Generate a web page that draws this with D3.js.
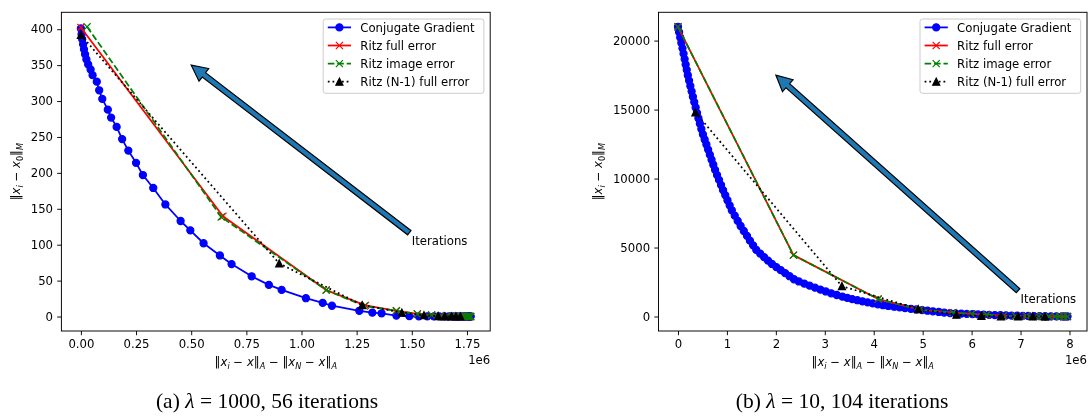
<!DOCTYPE html>
<html><head><meta charset="utf-8">
<script src="https://cdn.jsdelivr.net/npm/d3@7"></script>
<style>body{margin:0;background:#fff}svg{display:block;will-change:transform}text{font-family:"DejaVu Sans"}</style>
</head><body><svg id="c" width="1088" height="420"></svg>
<script>
// ---------- Panel (a): lambda = 1000, 56 iterations (x values in units of 1e6) ----------
const cgA_x = [0,0.003,0.006,0.010,0.014,0.019,0.025,0.033,0.044,0.053,0.072,0.083,0.097,0.122,0.137,0.162,0.187,0.215,0.250,0.281,0.328,0.383,0.452,0.496,0.556,0.630,0.683,0.774,0.852,0.910,1.020,1.096,1.138,1.262,1.321,1.363,1.430,1.489,1.532,1.570,1.600,1.625,1.648,1.668,1.686,1.701,1.714,1.725,1.734,1.742,1.748,1.753,1.757,1.761,1.764,1.767];
const cgA_y = [401,393,386,379,372,365,358,351,344,336,327,315,303,288,277,264,247,231,214,197,179,156,133,120,102,85,73,56,44,37,25.5,19,15,8,5.4,4.5,1.3,0.5,0.2,0.15,0.1,0.08,0.06,0.05,0.04,0.03,0.02,0.02,0.01,0.01,0.01,0,0,0,0,0];
const ritzFullA_x = [0,0.644,1.112,1.290,1.430,1.525,1.590,1.630,1.660,1.685,1.705,1.720,1.733,1.744,1.752,1.758,1.763,1.767];
const ritzFullA_y = [402.5,139.6,36.8,15.5,8,3.5,2,1.2,0.8,0.5,0.35,0.25,0.15,0.1,0.05,0.03,0.01,0];
const ritzImageA_x = [0.028,0.636,1.112,1.285,1.430,1.525,1.590,1.630,1.660,1.685,1.705,1.720,1.733,1.744,1.752,1.758,1.763,1.767];
const ritzImageA_y = [403.4,138.6,36.8,14.6,8,3.5,2,1.2,0.8,0.5,0.35,0.25,0.15,0.1,0.05,0.03,0.01,0];
const ritzN1A_x = [0,0.899,1.275,1.455,1.555,1.620,1.650,1.680,1.700,1.720];
const ritzN1A_y = [392,73.9,16,5.5,1.8,0.6,0.3,0.2,0.1,0.05];
const xTicksA = [0,0.25,0.5,0.75,1.0,1.25,1.5,1.75];
const xTickLabelsA = ["0.00","0.25","0.50","0.75","1.00","1.25","1.50","1.75"];
const yTicksA = [0,50,100,150,200,250,300,350,400];
const arrowA_xy = [0.5,350];
const arrowA_text = [1.5,100];

// ---------- Panel (b): lambda = 10, 104 iterations ----------
const cgB_x = [0,0.023,0.046,0.069,0.092,0.114,0.136,0.157,0.179,0.201,0.227,0.253,0.279,0.305,0.333,0.361,0.389,0.418,0.448,0.478,0.51,0.545,0.581,0.616,0.651,0.686,0.722,0.758,0.798,0.839,0.880,0.921,0.966,1.011,1.056,1.10,
  1.16,1.22,1.28,1.345,1.41,1.47,1.535,1.60,
  1.68,1.76,1.84,1.92,2.01,2.10,2.19,2.28,2.37,
  2.47,2.58,2.69,2.80,2.91,3.02,3.13,3.245,3.36,
  3.46,3.56,3.665,3.77,3.875,3.98,4.085,4.19,
  4.30,4.42,4.53,4.64,4.76,4.87,4.99,5.10,5.21,5.33,5.44,5.56,
  5.674,5.789,5.903,6.017,6.131,6.246,6.36,6.474,6.589,6.703,6.817,6.931,7.046,7.16,7.274,7.389,7.503,7.617,7.731,7.846,7.90,7.96];
const cgB_y = [21000,20610,20220,19830,19440,19050,18660,18270,17880,17490,17100,16710,16320,15930,15540,15150,14760,14370,13980,13590,13200,12830,12470,12100,11730,11370,11000,10630,10260,9900,9530,9160,8800,8430,8060,7700,
  7310,6930,6560,6200,5850,5500,5160,4830,
  4560,4300,4050,3810,3580,3360,3140,2920,2700,
  2540,2385,2235,2090,1950,1815,1685,1560,1440,
  1350,1265,1180,1100,1025,950,885,820,
  765,710,660,610,560,510,465,420,375,330,288,246,
  225,205,186,168,150,134,119,105,92,80,69,59,50,41,33,26,20,14,9,4,2,0];
const ritzFullB_x = [0,2.36,4.09,4.94,5.62,6.00,6.31,6.65,6.90,7.12,7.30,7.45,7.58,7.70,7.80,7.88,7.96];
const ritzFullB_y = [21000,4450,1265,495,280,190,125,55,35,20,12,8,5,3,2,1,0];
const ritzImageB_x = [0,2.36,4.09,4.94,5.62,6.00,6.31,6.65,6.90,7.12,7.30,7.45,7.58,7.70,7.80,7.88,7.96];
const ritzImageB_y = [21000,4450,1265,495,280,190,125,55,35,20,12,8,5,3,2,1,0];
const ritzN1B_x = [0.356,3.35,4.91,5.69,6.20,6.60,6.95,7.25,7.50];
const ritzN1B_y = [14800,2200,540,130,45,20,8,3,1];
const xTicksB = [0,1,2,3,4,5,6,7,8];
const xTickLabelsB = ["0","1","2","3","4","5","6","7","8"];
const yTicksB = [0,5000,10000,15000,20000];
const arrowB_xy = [2,17500];
const arrowB_text = [7,1000];

const legendLabels = ["Conjugate Gradient","Ritz full error","Ritz image error","Ritz (N-1) full error"];
const captionA = ["(a) ","λ"," = 1000, 56 iterations"];
const captionB = ["(b) ","λ"," = 10, 104 iterations"];

// ---------- drawing ----------
const svg = d3.select("#c");
svg.append("rect").attr("width",1088).attr("height",420).attr("fill","#fff");
const FS = 11.7, LW = 1.78, MEW = 1.18, MS = 7.1;

function mathText(sel, parts, fs) {
  let shifted = 0;
  parts.forEach(p => {
    const ts = sel.append("tspan").text(p.t);
    ts.attr("font-style", p.i ? "italic" : "normal");
    const want = p.sub ? fs * 0.24 : 0;
    if (want !== shifted) ts.attr("dy", want - shifted);
    shifted = want;
    if (p.sub) ts.attr("font-size", fs * 0.7);
  });
}
const ylabelParts = [{t:"‖"},{t:"x",i:1},{t:"i",sub:1,i:1},{t:" − "},{t:"x",i:1},{t:"0",sub:1},{t:"‖"},{t:"M",sub:1,i:1}];
const xlabelParts = [{t:"‖"},{t:"x",i:1},{t:"i",sub:1,i:1},{t:" − "},{t:"x",i:1},{t:"‖"},{t:"A",sub:1,i:1},{t:" − "},{t:"‖"},{t:"x",i:1},{t:"N",sub:1,i:1},{t:" − "},{t:"x",i:1},{t:"‖"},{t:"A",sub:1,i:1}];

function marker(g, type, cx, cy, color) {
  const h = MS / 2;
  if (type === "o") {
    g.append("circle").attr("cx", cx).attr("cy", cy).attr("r", h).attr("fill", color).attr("stroke", color).attr("stroke-width", MEW);
  } else if (type === "x") {
    g.append("path").attr("d", `M${cx-h},${cy-h}L${cx+h},${cy+h}M${cx-h},${cy+h}L${cx+h},${cy-h}`).attr("stroke", color).attr("stroke-width", MEW).attr("fill", "none");
  } else if (type === "^") {
    g.append("path").attr("d", `M${cx},${cy-h}L${cx-h},${cy+h}L${cx+h},${cy+h}Z`).attr("fill", color).attr("stroke", color).attr("stroke-width", MEW);
  }
}

function drawPanel(P, id) {
  const g = svg.append("g");
  const allX = [].concat(...P.series.map(s => s.x));
  const allY = [].concat(...P.series.map(s => s.y));
  const [x0, x1] = d3.extent(allX), [y0, y1] = d3.extent(allY);
  const mx = (x1 - x0) * 0.05, my = (y1 - y0) * 0.05;
  const x = d3.scaleLinear().domain([x0 - mx, x1 + mx]).range([P.L, P.R]);
  const y = d3.scaleLinear().domain([y0 - my, y1 + my]).range([P.B, P.T]);

  svg.append("clipPath").attr("id", "clip" + id).append("rect")
    .attr("x", P.L).attr("y", P.T).attr("width", P.R - P.L).attr("height", P.B - P.T);
  const plot = g.append("g").attr("clip-path", `url(#clip${id})`);

  P.series.forEach(s => {
    const pts = s.x.map((v, i) => [x(v), y(s.y[i])]);
    const sg = plot.append("g");
    const path = sg.append("path").attr("d", d3.line()(pts)).attr("fill", "none")
      .attr("stroke", s.color).attr("stroke-width", LW).attr("stroke-linejoin", "round");
    if (s.dash) path.attr("stroke-dasharray", s.dash);
    pts.forEach(p => marker(sg, s.marker, p[0], p[1], s.color));
  });

  // arrow annotation
  const tip = [x(P.arrowXY[0]), y(P.arrowXY[1])];
  const tx = x(P.arrowText[0]), ty = y(P.arrowText[1]);
  g.append("text").attr("x", tx).attr("y", ty).attr("font-size", FS).attr("fill", "#000").text("Iterations");
  const tail = [tx - 2.5, ty - 12];
  const dx = tip[0] - tail[0], dy = tip[1] - tail[1], len = Math.hypot(dx, dy);
  const ux = dx / len, uy = dy / len, nx = -uy, ny = ux;
  const w = 5.4, hw = 16, hl = 16;
  const bx = tip[0] - ux * hl, by = tip[1] - uy * hl;
  const poly = [
    [tail[0] + nx * w / 2, tail[1] + ny * w / 2],
    [bx + nx * w / 2, by + ny * w / 2],
    [bx + nx * hw / 2, by + ny * hw / 2],
    tip,
    [bx - nx * hw / 2, by - ny * hw / 2],
    [bx - nx * w / 2, by - ny * w / 2],
    [tail[0] - nx * w / 2, tail[1] - ny * w / 2]];
  g.append("path").attr("d", "M" + poly.map(p => p.join(",")).join("L") + "Z")
    .attr("fill", "#1f77b4").attr("stroke", "#000").attr("stroke-width", 1.18).attr("stroke-linejoin", "miter");

  // axes
  const ax = g.append("g").attr("transform", `translate(0,${P.B})`)
    .call(d3.axisBottom(x).tickValues(P.xTicks).tickFormat((d, i) => P.xTickLabels[i]).tickSize(4.2).tickPadding(4.2));
  const ay = g.append("g").attr("transform", `translate(${P.L},0)`)
    .call(d3.axisLeft(y).tickValues(P.yTicks).tickFormat(d3.format("d")).tickSize(4.2).tickPadding(4.2));
  [ax, ay].forEach(a => {
    a.select(".domain").remove();
    a.selectAll("line").attr("stroke", "#000").attr("stroke-width", 0.95);
    a.selectAll("text").attr("font-size", FS).attr("fill", "#000");
  });
  g.append("rect").attr("x", P.L).attr("y", P.T).attr("width", P.R - P.L).attr("height", P.B - P.T)
    .attr("fill", "none").attr("stroke", "#000").attr("stroke-width", 0.95);

  // offset text
  g.append("text").attr("x", P.R).attr("y", P.B + 33).attr("text-anchor", "end").attr("font-size", FS).attr("fill", "#000").text("1e6");

  // labels
  const xl = g.append("text").attr("x", (P.L + P.R) / 2).attr("y", P.B + 35).attr("text-anchor", "middle").attr("font-size", FS).attr("fill", "#000");
  mathText(xl, xlabelParts, FS);
  const yl = g.append("text").attr("transform", `translate(${P.ylabX},${(P.T + P.B) / 2}) rotate(-90)`).attr("text-anchor", "middle").attr("font-size", FS).attr("fill", "#000");
  mathText(yl, ylabelParts, FS);

  // legend
  const lg = g.append("g");
  const lw = 160.7, lh = 74.3;
  const lx = P.R - 6.3 - lw, ly = P.T + 6.7;
  lg.append("rect").attr("x", lx).attr("y", ly).attr("width", lw).attr("height", lh).attr("rx", 2.5)
    .attr("fill", "#fff").attr("fill-opacity", 0.8).attr("stroke", "#cccccc").attr("stroke-width", 1);
  P.series.forEach((s, i) => {
    const ry = ly + 8.4 + i * 18.1;
    const h0 = lx + 4.6, h1 = h0 + 23.2;
    const l = lg.append("line").attr("x1", h0).attr("x2", h1).attr("y1", ry).attr("y2", ry)
      .attr("stroke", s.color).attr("stroke-width", LW);
    if (s.dash) l.attr("stroke-dasharray", s.dash);
    marker(lg, s.marker, (h0 + h1) / 2, ry, s.color);
    lg.append("text").attr("x", h1 + 9.3).attr("y", ry).attr("dy", "0.36em").attr("font-size", FS).attr("fill", "#000").text(legendLabels[i]);
  });

  // caption (LaTeX-like serif)
  const cap = svg.append("text").attr("x", P.capX).attr("y", 408).attr("text-anchor", "middle")
    .style("font-family", "'Liberation Serif', serif").style("font-size", "21.5px").attr("fill", "#000");
  cap.append("tspan").text(P.caption[0]);
  cap.append("tspan").style("font-style", "italic").text(P.caption[1]);
  cap.append("tspan").text(P.caption[2]);
}

const DASH = `${(3.7*LW).toFixed(2)},${(1.6*LW).toFixed(2)}`;
const DOT = `${(1*LW).toFixed(2)},${(1.65*LW).toFixed(2)}`;

drawPanel({
  L: 61.4, R: 490.2, T: 12.3, B: 331,
  series: [
    {x: cgA_x, y: cgA_y, color: "#0000ff", marker: "o"},
    {x: ritzFullA_x, y: ritzFullA_y, color: "#ff0000", marker: "x"},
    {x: ritzImageA_x, y: ritzImageA_y, color: "#008000", marker: "x", dash: DASH},
    {x: ritzN1A_x, y: ritzN1A_y, color: "#000000", marker: "^", dash: DOT}],
  xTicks: xTicksA, xTickLabels: xTickLabelsA, yTicks: yTicksA,
  arrowXY: arrowA_xy, arrowText: arrowA_text, ylabX: 20, capX: 267, caption: captionA
}, "A");

drawPanel({
  L: 658.5, R: 1087, T: 12.3, B: 331,
  series: [
    {x: cgB_x, y: cgB_y, color: "#0000ff", marker: "o"},
    {x: ritzFullB_x, y: ritzFullB_y, color: "#ff0000", marker: "x"},
    {x: ritzImageB_x, y: ritzImageB_y, color: "#008000", marker: "x", dash: DASH},
    {x: ritzN1B_x, y: ritzN1B_y, color: "#000000", marker: "^", dash: DOT}],
  xTicks: xTicksB, xTickLabels: xTickLabelsB, yTicks: yTicksB,
  arrowXY: arrowB_xy, arrowText: arrowB_text, ylabX: 602, capX: 842, caption: captionB
}, "B");
</script></body></html>
